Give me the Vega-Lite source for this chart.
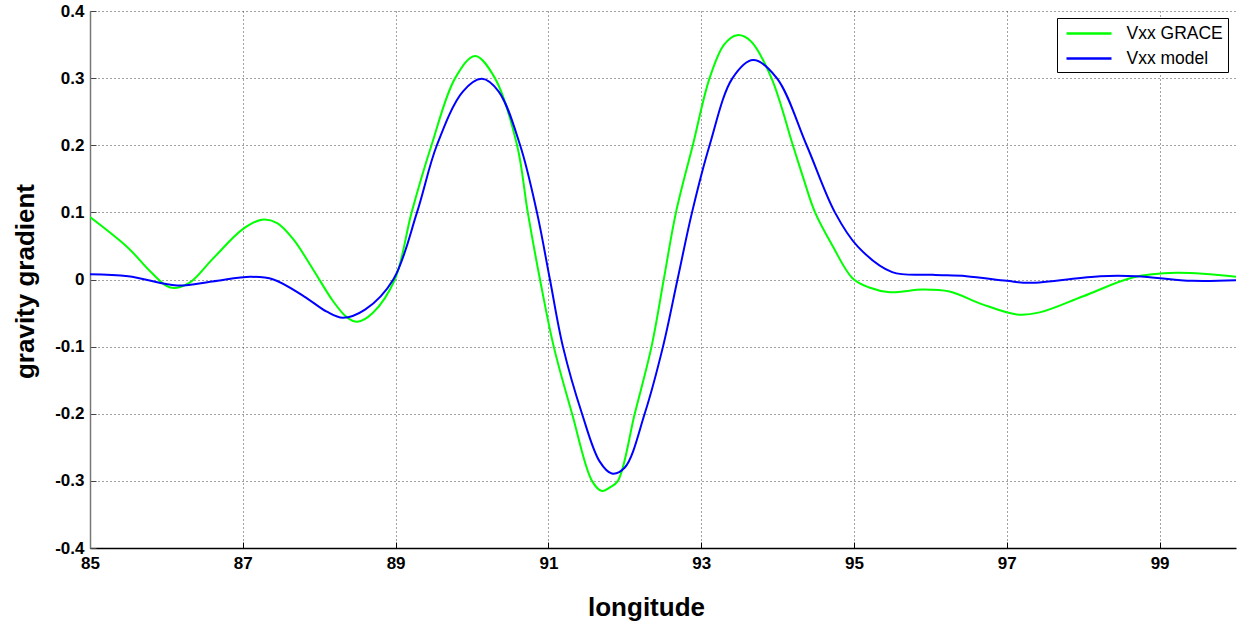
{
  "$schema": "https://vega.github.io/schema/vega-lite/v6.json",
  "autosize": {"type": "none"},
  "width": 1146,
  "height": 537,
  "padding": {"left": 90, "top": 11, "right": 4, "bottom": 84},
  "background": "white",
  "config": {
    "view": {"stroke": null},
    "font": "Liberation Sans"
  },
  "data": {
    "values": [
      {"lon": 85.0, "value": 0.093, "series": "Vxx GRACE"},
      {"lon": 85.5, "value": 0.047, "series": "Vxx GRACE"},
      {"lon": 85.79, "value": 0.012, "series": "Vxx GRACE"},
      {"lon": 86.05, "value": -0.012, "series": "Vxx GRACE"},
      {"lon": 86.3, "value": -0.005, "series": "Vxx GRACE"},
      {"lon": 86.6, "value": 0.030, "series": "Vxx GRACE"},
      {"lon": 87.0, "value": 0.075, "series": "Vxx GRACE"},
      {"lon": 87.25, "value": 0.089, "series": "Vxx GRACE"},
      {"lon": 87.45, "value": 0.084, "series": "Vxx GRACE"},
      {"lon": 87.66, "value": 0.060, "series": "Vxx GRACE"},
      {"lon": 87.92, "value": 0.015, "series": "Vxx GRACE"},
      {"lon": 88.18, "value": -0.032, "series": "Vxx GRACE"},
      {"lon": 88.36, "value": -0.056, "series": "Vxx GRACE"},
      {"lon": 88.5, "value": -0.063, "series": "Vxx GRACE"},
      {"lon": 88.7, "value": -0.050, "series": "Vxx GRACE"},
      {"lon": 88.99, "value": 0.0, "series": "Vxx GRACE"},
      {"lon": 89.21, "value": 0.1, "series": "Vxx GRACE"},
      {"lon": 89.47, "value": 0.2, "series": "Vxx GRACE"},
      {"lon": 89.78, "value": 0.3, "series": "Vxx GRACE"},
      {"lon": 90.04, "value": 0.333, "series": "Vxx GRACE"},
      {"lon": 90.3, "value": 0.300, "series": "Vxx GRACE"},
      {"lon": 90.59, "value": 0.2, "series": "Vxx GRACE"},
      {"lon": 90.73, "value": 0.1, "series": "Vxx GRACE"},
      {"lon": 90.89, "value": 0.0, "series": "Vxx GRACE"},
      {"lon": 91.07, "value": -0.1, "series": "Vxx GRACE"},
      {"lon": 91.31, "value": -0.2, "series": "Vxx GRACE"},
      {"lon": 91.57, "value": -0.3, "series": "Vxx GRACE"},
      {"lon": 91.70, "value": -0.315, "series": "Vxx GRACE"},
      {"lon": 91.80, "value": -0.310, "series": "Vxx GRACE"},
      {"lon": 91.91, "value": -0.3, "series": "Vxx GRACE"},
      {"lon": 92.13, "value": -0.2, "series": "Vxx GRACE"},
      {"lon": 92.35, "value": -0.1, "series": "Vxx GRACE"},
      {"lon": 92.51, "value": 0.0, "series": "Vxx GRACE"},
      {"lon": 92.67, "value": 0.1, "series": "Vxx GRACE"},
      {"lon": 92.89, "value": 0.2, "series": "Vxx GRACE"},
      {"lon": 93.11, "value": 0.3, "series": "Vxx GRACE"},
      {"lon": 93.30, "value": 0.350, "series": "Vxx GRACE"},
      {"lon": 93.47, "value": 0.364, "series": "Vxx GRACE"},
      {"lon": 93.65, "value": 0.355, "series": "Vxx GRACE"},
      {"lon": 93.92, "value": 0.3, "series": "Vxx GRACE"},
      {"lon": 94.20, "value": 0.2, "series": "Vxx GRACE"},
      {"lon": 94.34, "value": 0.15, "series": "Vxx GRACE"},
      {"lon": 94.49, "value": 0.1, "series": "Vxx GRACE"},
      {"lon": 94.72, "value": 0.05, "series": "Vxx GRACE"},
      {"lon": 94.98, "value": 0.002, "series": "Vxx GRACE"},
      {"lon": 95.2, "value": -0.012, "series": "Vxx GRACE"},
      {"lon": 95.47, "value": -0.019, "series": "Vxx GRACE"},
      {"lon": 95.9, "value": -0.015, "series": "Vxx GRACE"},
      {"lon": 96.25, "value": -0.018, "series": "Vxx GRACE"},
      {"lon": 96.68, "value": -0.037, "series": "Vxx GRACE"},
      {"lon": 97.13, "value": -0.052, "series": "Vxx GRACE"},
      {"lon": 97.43, "value": -0.049, "series": "Vxx GRACE"},
      {"lon": 98.0, "value": -0.025, "series": "Vxx GRACE"},
      {"lon": 98.65, "value": 0.003, "series": "Vxx GRACE"},
      {"lon": 99.22, "value": 0.010, "series": "Vxx GRACE"},
      {"lon": 100.0, "value": 0.004, "series": "Vxx GRACE"},

      {"lon": 85.0, "value": 0.008, "series": "Vxx model"},
      {"lon": 85.5, "value": 0.005, "series": "Vxx model"},
      {"lon": 86.14, "value": -0.009, "series": "Vxx model"},
      {"lon": 86.6, "value": -0.003, "series": "Vxx model"},
      {"lon": 87.1, "value": 0.004, "series": "Vxx model"},
      {"lon": 87.4, "value": 0.0, "series": "Vxx model"},
      {"lon": 87.8, "value": -0.025, "series": "Vxx model"},
      {"lon": 88.1, "value": -0.048, "series": "Vxx model"},
      {"lon": 88.31, "value": -0.057, "series": "Vxx model"},
      {"lon": 88.6, "value": -0.045, "series": "Vxx model"},
      {"lon": 88.97, "value": 0.0, "series": "Vxx model"},
      {"lon": 89.28, "value": 0.1, "series": "Vxx model"},
      {"lon": 89.54, "value": 0.2, "series": "Vxx model"},
      {"lon": 89.88, "value": 0.280, "series": "Vxx model"},
      {"lon": 90.13, "value": 0.299, "series": "Vxx model"},
      {"lon": 90.35, "value": 0.280, "series": "Vxx model"},
      {"lon": 90.63, "value": 0.2, "series": "Vxx model"},
      {"lon": 90.85, "value": 0.1, "series": "Vxx model"},
      {"lon": 91.02, "value": 0.0, "series": "Vxx model"},
      {"lon": 91.19, "value": -0.1, "series": "Vxx model"},
      {"lon": 91.44, "value": -0.2, "series": "Vxx model"},
      {"lon": 91.67, "value": -0.271, "series": "Vxx model"},
      {"lon": 91.83, "value": -0.289, "series": "Vxx model"},
      {"lon": 92.0, "value": -0.280, "series": "Vxx model"},
      {"lon": 92.26, "value": -0.2, "series": "Vxx model"},
      {"lon": 92.5, "value": -0.1, "series": "Vxx model"},
      {"lon": 92.69, "value": 0.0, "series": "Vxx model"},
      {"lon": 92.88, "value": 0.1, "series": "Vxx model"},
      {"lon": 93.11, "value": 0.2, "series": "Vxx model"},
      {"lon": 93.41, "value": 0.3, "series": "Vxx model"},
      {"lon": 93.68, "value": 0.327, "series": "Vxx model"},
      {"lon": 93.99, "value": 0.3, "series": "Vxx model"},
      {"lon": 94.38, "value": 0.2, "series": "Vxx model"},
      {"lon": 94.75, "value": 0.1, "series": "Vxx model"},
      {"lon": 95.05, "value": 0.049, "series": "Vxx model"},
      {"lon": 95.5, "value": 0.011, "series": "Vxx model"},
      {"lon": 96.03, "value": 0.007, "series": "Vxx model"},
      {"lon": 96.47, "value": 0.005, "series": "Vxx model"},
      {"lon": 97.0, "value": -0.002, "series": "Vxx model"},
      {"lon": 97.3, "value": -0.005, "series": "Vxx model"},
      {"lon": 98.22, "value": 0.005, "series": "Vxx model"},
      {"lon": 98.7, "value": 0.005, "series": "Vxx model"},
      {"lon": 99.43, "value": -0.002, "series": "Vxx model"},
      {"lon": 100.0, "value": -0.001, "series": "Vxx model"}
    ]
  },
  "mark": {"type": "line", "interpolate": "catmull-rom", "strokeWidth": 2, "clip": true},
  "encoding": {
    "x": {
      "field": "lon", "type": "quantitative",
      "scale": {"domain": [85, 100], "nice": false, "zero": false},
      "axis": {
        "values": [85, 87, 89, 91, 93, 95, 97, 99],
        "title": "longitude",
        "titleFont": "Liberation Sans", "titleFontSize": 26, "titleFontWeight": "bold",
        "titleColor": "black", "titleX": 556, "titleY": 67, "titleBaseline": "alphabetic", "titleAlign": "center",
        "labelFont": "Liberation Sans", "labelFontSize": 17, "labelFontWeight": "bold", "labelColor": "black",
        "labelPadding": 13, "labelFlush": false,
        "domainColor": "black", "domainWidth": 1.5,
        "tickColor": "black", "tickSize": -6, "tickWidth": 1,
        "grid": true, "gridColor": "#444", "gridDash": [1, 3], "gridWidth": 1
      }
    },
    "y": {
      "field": "value", "type": "quantitative",
      "scale": {"domain": [-0.4, 0.4], "nice": false, "zero": false},
      "axis": {
        "values": [-0.4, -0.3, -0.2, -0.1, 0, 0.1, 0.2, 0.3, 0.4],
        "labelExpr": "datum.value == 0 ? '0' : replace(format(datum.value, '.1f'), '\u2212', '-')",
        "title": "gravity gradient",
        "titleFont": "Liberation Sans", "titleFontSize": 26, "titleFontWeight": "bold",
        "titleColor": "black", "titleX": -65, "titleY": 270, "titleBaseline": "middle", "titleAlign": "center", "titleAngle": -90,
        "labelFont": "Liberation Sans", "labelFontSize": 17, "labelFontWeight": "bold", "labelColor": "black",
        "labelPadding": 12, "labelFlush": false,
        "domainColor": "#777", "domainWidth": 1.5,
        "tickColor": "#444", "tickSize": -6, "tickWidth": 1,
        "grid": true, "gridColor": "#444", "gridDash": [1, 3], "gridWidth": 1
      }
    },
    "color": {
      "field": "series", "type": "nominal",
      "scale": {"domain": ["Vxx GRACE", "Vxx model"], "range": ["#00ff00", "#0000ff"]},
      "legend": {
        "orient": "none", "legendX": 967, "legendY": 7,
        "title": null,
        "symbolType": "M-2.5,0H2.5", "symbolSize": 324, "symbolStrokeWidth": 2.5,
        "symbolOffset": 16.5,
        "labelFont": "Liberation Sans", "labelFontSize": 17.5, "labelColor": "black",
        "labelOffset": 27,
        "rowPadding": 6,
        "strokeColor": "black", "fillColor": "white",
        "padding": 5
      }
    }
  }
}
